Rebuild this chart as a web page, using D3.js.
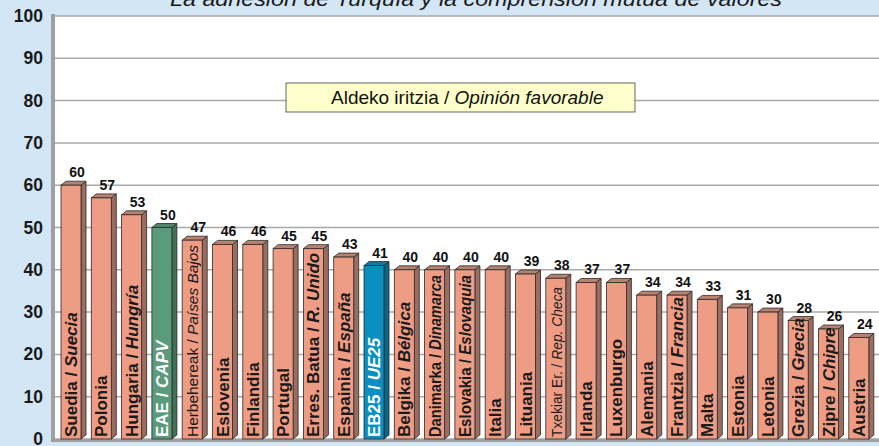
<!DOCTYPE html>
<html>
<head>
<meta charset="utf-8">
<script src="https://d3js.org/d3.v7.min.js"></script>
<style>
  html, body { margin: 0; padding: 0; background: #d3e6f5; }
  svg { display: block; font-family: "Liberation Sans", Arial, sans-serif; }
</style>
</head>
<body>
<div id="chart"></div>
<script>
// Basque name / Spanish name (italic), value in %
const namesEu = ["Suedia", "Polonia", "Hungaria", "EAE", "Herbehereak", "Eslovenia", "Finlandia",
  "Portugal", "Erres. Batua", "Espainia", "EB25", "Belgika", "Danimarka", "Eslovakia", "Italia",
  "Lituania", "Txekiar Er.", "Irlanda", "Luxenburgo", "Alemania", "Frantzia", "Malta", "Estonia",
  "Letonia", "Grezia", "Zipre", "Austria"];
const namesEs = ["Suecia", null, "Hungría", "CAPV", "Países Bajos", null, null,
  null, "R. Unido", "España", "UE25", "Bélgica", "Dinamarca", "Eslovaquia", null,
  null, "Rep. Checa", null, null, null, "Francia", null, null,
  null, "Grecia", "Chipre", null];
const values = [60, 57, 53, 50, 47, 46, 46, 45, 45, 43, 41, 40, 40, 40, 40, 39, 38, 37, 37, 34, 34, 33, 31, 30, 28, 26, 24];
const highlight = { "EAE": "#5b9a7a", "EB25": "#0b8fc0" };
const yTicks = [0, 10, 20, 30, 40, 50, 60, 70, 80, 90, 100];
const title = "La adhesión de Turquía y la comprensión mutua de valores";

const width = 879, height = 446;
const svg = d3.select("#chart").append("svg")
  .attr("width", width).attr("height", height);

const plot = { left: 55, right: 879, top: 16, bottom: 439 };
const y = d3.scaleLinear().domain([0, 100]).range([plot.bottom, plot.top]);
const x = d3.scaleBand().domain(namesEu).range([plot.left, plot.left + 27 * 30.3]).padding(0);

// plot wall
svg.append("rect").attr("x", plot.left).attr("y", plot.top)
  .attr("width", plot.right - plot.left).attr("height", plot.bottom - plot.top)
  .attr("fill", "#ffffff");

// gridlines
svg.append("g").selectAll("line").data(yTicks).join("line")
  .attr("x1", plot.left).attr("x2", plot.right)
  .attr("y1", d => y(d)).attr("y2", d => y(d))
  .attr("stroke", "#a8a8a8").attr("stroke-width", 1.5);

// left wall + floor
svg.append("rect").attr("x", 51).attr("y", 14).attr("width", 4).attr("height", plot.bottom - 12)
  .attr("fill", "#a0a0a0");
svg.append("rect").attr("x", 51).attr("y", plot.bottom).attr("width", plot.right - 51).attr("height", 3)
  .attr("fill", "#a0a0a0");

// y axis labels
svg.append("g").selectAll("text").data(yTicks).join("text")
  .attr("x", 43).attr("y", d => y(d) + 6)
  .attr("text-anchor", "end")
  .attr("font-size", 17.5).attr("font-weight", "bold").attr("fill", "#1a1a1a")
  .text(d => d);

// title (cut off at top)
svg.append("text").attr("x", 476).attr("y", 6)
  .attr("text-anchor", "middle").attr("font-size", 21).attr("font-style", "italic")
  .attr("textLength", 612).attr("lengthAdjust", "spacingAndGlyphs")
  .attr("fill", "#1a1a1a").text(title);

// legend box
svg.append("rect").attr("x", 286).attr("y", 83).attr("width", 349).attr("height", 29)
  .attr("fill", "#ffffcc").attr("stroke", "#666").attr("stroke-width", 1);
const leg = svg.append("text").attr("x", 331).attr("y", 104)
  .attr("font-size", 19).attr("fill", "#111");
leg.append("tspan").text("Aldeko iritzia / ");
leg.append("tspan").attr("font-style", "italic").text("Opinión favorable");

// labels that are squeezed / lighter in the original
const squeezed = { "Danimarka": 162, "Eslovakia": 162, "Herbehereak": 192, "Txekiar Er.": 150 };
const lightLabels = ["Herbehereak", "Txekiar Er."];

// bars
const bw = 20, dx = 5, dy = 4, off = 6;
const bars = svg.append("g").selectAll("g").data(namesEu).join("g");

bars.each(function (name, i) {
  const g = d3.select(this);
  const x0 = x(name) + off;
  const top = y(values[i]);
  const base = y(0);
  const front = highlight[name] || "#ef9c85";
  const side = highlight[name] ? d3.color(front).darker(0.9) : "#9c6d5e";
  const topc = highlight[name] ? d3.color(front).darker(0.4) : "#b98270";

  g.append("polygon")
    .attr("points", [[x0 + bw, top], [x0 + bw + dx, top - dy], [x0 + bw + dx, base - dy], [x0 + bw, base]].join(" "))
    .attr("fill", side).attr("stroke", "#2a2a2a").attr("stroke-width", 0.8);
  g.append("polygon")
    .attr("points", [[x0, top], [x0 + dx, top - dy], [x0 + bw + dx, top - dy], [x0 + bw, top]].join(" "))
    .attr("fill", topc).attr("stroke", "#2a2a2a").attr("stroke-width", 0.8);
  g.append("rect")
    .attr("x", x0).attr("y", top).attr("width", bw).attr("height", base - top)
    .attr("fill", front).attr("stroke", "#2a2a2a").attr("stroke-width", 0.8);

  // value label
  g.append("text").attr("x", x0 + bw / 2 + 6).attr("y", top - 8)
    .attr("text-anchor", "middle").attr("font-size", 14).attr("font-weight", "bold")
    .attr("fill", "#111").text(values[i]);

  // category label inside the bar
  const light = lightLabels.includes(name);
  const t = g.append("text")
    .attr("transform", `translate(${x0 + bw / 2 + 6},${base - 2}) rotate(-90)`)
    .attr("font-size", light ? 15.5 : 17)
    .attr("font-weight", light ? "normal" : "bold")
    .attr("fill", highlight[name] ? "#ffffff" : "#1a1a1a");
  if (squeezed[name]) t.attr("textLength", squeezed[name]).attr("lengthAdjust", "spacingAndGlyphs");
  t.append("tspan").text(namesEs[i] ? name + " / " : name);
  if (namesEs[i]) t.append("tspan").attr("font-style", "italic").text(namesEs[i]);
});
</script>
</body>
</html>
